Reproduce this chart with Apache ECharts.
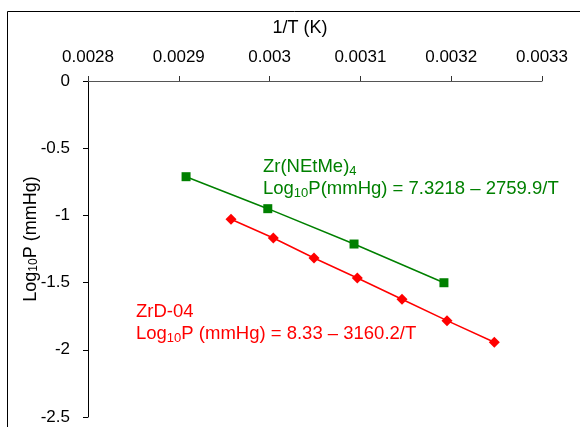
<!DOCTYPE html>
<html>
<head>
<meta charset="utf-8">
<script src="https://cdn.jsdelivr.net/npm/echarts@6/dist/echarts.min.js"></script>
<style>
  html, body { margin: 0; padding: 0; background: #fff; }
  #chart { width: 580px; height: 427px; }
</style>
</head>
<body>
<div id="chart"></div>
<script>
// Vapour pressure data: 1/T (K^-1) against Log10 P (mmHg)
const zrNEtMeInvT = [0.002908, 0.002998, 0.003093, 0.003192];
const zrNEtMeLogP = [-0.712, -0.950, -1.213, -1.501];

const zrD04InvT = [0.0029575, 0.0030041, 0.0030489, 0.0030966, 0.0031458, 0.0031954, 0.0032475];
const zrD04LogP = [-1.029, -1.168, -1.317, -1.466, -1.624, -1.783, -1.944];

const xTicks = { min: 0.0028, max: 0.0033, step: 0.0001 };
const yTicks = { min: -2.5, max: 0, step: 0.5 };

const FONT = '"Liberation Sans", Arial, sans-serif';
const GREEN = '#008000';
const RED = '#FF0000';

const pairs = (xs, ys) => xs.map((x, i) => [x, ys[i]]);

const chart = echarts.init(document.getElementById('chart'), null, { renderer: 'canvas' });

chart.setOption({
  animation: false,
  backgroundColor: '#fff',
  grid: { left: 88, right: 38, top: 81, bottom: 10, containLabel: false },
  xAxis: {
    type: 'value',
    position: 'top',
    min: xTicks.min,
    max: xTicks.max,
    interval: xTicks.step,
    name: '1/T (K)',
    nameLocation: 'middle',
    nameGap: 44,
    nameMoveOverlap: false,
    nameTextStyle: { fontFamily: FONT, fontSize: 18, color: '#000', padding: [0, 30, 0, 0] },
    axisLine: { onZero: false, lineStyle: { color: '#555', width: 1 } },
    axisTick: { show: true, length: 5, inside: false, lineStyle: { color: '#333' } },
    axisLabel: {
      fontFamily: FONT, fontSize: 17, color: '#000', margin: 15,
      formatter: v => String(+v.toFixed(4))
    },
    splitLine: { show: false }
  },
  yAxis: {
    type: 'value',
    min: yTicks.min,
    max: yTicks.max,
    interval: yTicks.step,
    name: '{a|Log}{s|10}{a|P (mmHg)}',
    nameLocation: 'middle',
    nameGap: 48,
    nameRotate: 90,
    nameMoveOverlap: false,
    nameTextStyle: {
      fontFamily: FONT, color: '#000', padding: [0, 0, 0, 20],
      rich: {
        a: { fontFamily: FONT, fontSize: 18, lineHeight: 18, verticalAlign: 'middle', color: '#000' },
        s: { fontFamily: FONT, fontSize: 12, lineHeight: 14, verticalAlign: 'bottom', color: '#000' }
      }
    },
    axisLine: { onZero: false, lineStyle: { color: '#000', width: 1 } },
    axisTick: { show: true, length: 5, lineStyle: { color: '#000' } },
    axisLabel: {
      fontFamily: FONT, fontSize: 17, color: '#000', margin: 18,
      formatter: v => String(+v.toFixed(1))
    },
    splitLine: { show: false }
  },
  series: [
    {
      name: 'Zr(NEtMe)4',
      type: 'line',
      data: pairs(zrNEtMeInvT, zrNEtMeLogP),
      symbol: 'rect',
      symbolSize: 9,
      lineStyle: { color: GREEN, width: 1.5 },
      itemStyle: { color: GREEN },
      z: 3
    },
    {
      name: 'ZrD-04',
      type: 'line',
      data: pairs(zrD04InvT, zrD04LogP),
      symbol: 'diamond',
      symbolSize: 11,
      lineStyle: { color: RED, width: 1.5 },
      itemStyle: { color: RED },
      z: 3
    }
  ],
  graphic: [
    {
      type: 'rect',
      shape: { x: 7.5, y: 11.5, width: 700, height: 600 },
      style: { fill: 'none', stroke: '#000', lineWidth: 1 },
      silent: true,
      z: -1
    },
    {
      type: 'text',
      left: 263,
      top: 157,
      style: {
        text: '{a|Zr(NEtMe)}{s|4}\n{a|Log}{s|10}{a|P(mmHg) = 7.3218 \u2013 2759.9/T}',
        fill: GREEN,
        rich: {
          a: { fontFamily: FONT, fontSize: 18.5, lineHeight: 22, verticalAlign: 'middle', fill: GREEN },
          s: { fontFamily: FONT, fontSize: 13, lineHeight: 10, verticalAlign: 'bottom', fill: GREEN }
        }
      }
    },
    {
      type: 'text',
      left: 136,
      top: 302,
      style: {
        text: '{a|ZrD-04}\n{a|Log}{s|10}{a|P (mmHg) = 8.33 \u2013 3160.2/T}',
        fill: RED,
        rich: {
          a: { fontFamily: FONT, fontSize: 18.5, lineHeight: 22, verticalAlign: 'middle', fill: RED },
          s: { fontFamily: FONT, fontSize: 13, lineHeight: 10, verticalAlign: 'bottom', fill: RED }
        }
      }
    }
  ]
});
</script>
</body>
</html>
